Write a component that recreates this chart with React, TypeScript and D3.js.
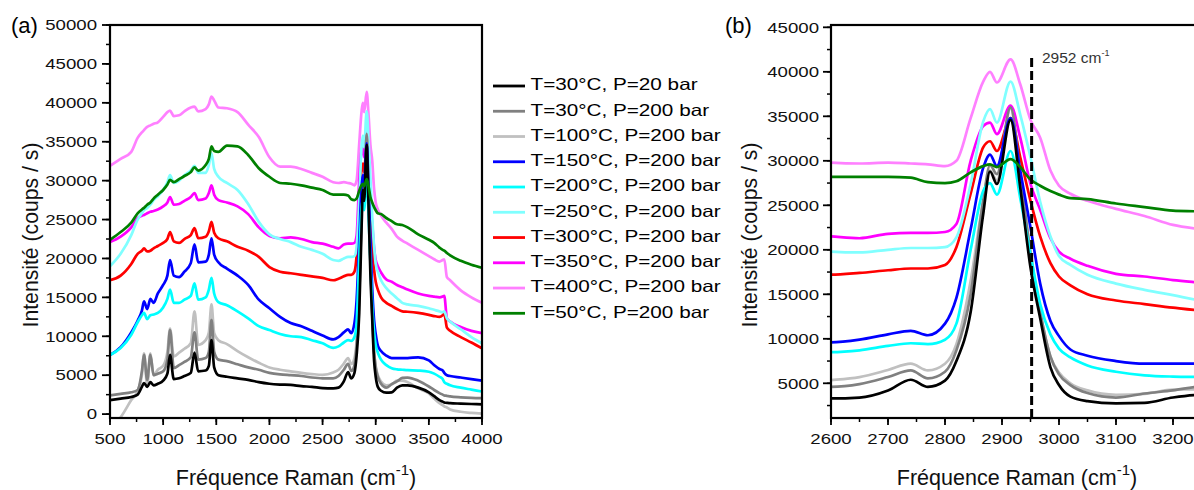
import React from "react";
import * as d3 from "d3";

// ---------- data ----------
const wavenumber = [500, 600, 700, 760, 800, 820, 850, 880, 910, 950, 1000, 1040, 1065, 1100, 1150, 1200, 1260, 1295, 1330, 1400, 1430, 1455, 1480, 1520, 1600, 1700, 1800, 1900, 2000, 2100, 2200, 2300, 2400, 2500, 2600, 2650, 2700, 2740, 2770, 2800, 2820, 2845, 2867, 2879, 2891, 2915, 2932, 2950, 2967, 2985, 3000, 3020, 3050, 3100, 3150, 3200, 3250, 3300, 3400, 3500, 3550, 3600, 3630, 3645, 3670, 3700, 3800, 3900, 4000];

const i30_20 = [1800, 2000, 2200, 2500, 3500, 4000, 3500, 4100, 3700, 3900, 4300, 5200, 7600, 4500, 4600, 4900, 5300, 7900, 5500, 5600, 6200, 9500, 6000, 5000, 4800, 4600, 4400, 4100, 3900, 3800, 3750, 3600, 3500, 3350, 3300, 3400, 4200, 5400, 4600, 5300, 7500, 13000, 24000, 28800, 27400, 34600, 27000, 18000, 12300, 6800, 4800, 3500, 3000, 2750, 2800, 3400, 3700, 3700, 3400, 2800, 2300, 1800, 1600, 1500, 1450, 1400, 1350, 1300, 1250];
const i30_200 = [2400, 2600, 2800, 3100, 5500, 7600, 4400, 7600, 5000, 5200, 5500, 7000, 10800, 5900, 6300, 6700, 7300, 10500, 7000, 7200, 8000, 12100, 8000, 7000, 6800, 6400, 6000, 5700, 5300, 5100, 5000, 4900, 4700, 4600, 4600, 4900, 5700, 6450, 5550, 6300, 8700, 15000, 25500, 29500, 28500, 36000, 28500, 19500, 13000, 8000, 6000, 4800, 3900, 3400, 3850, 4200, 4650, 4700, 4300, 3550, 3100, 2700, 2500, 2400, 2350, 2270, 2150, 2080, 2050];
const i100_200 = [-1800, -400, 1800, 3000, 5000, 7800, 3600, 7800, 5000, 5700, 6200, 8000, 11000, 7400, 7900, 8400, 9100, 13200, 8900, 9500, 10500, 14100, 10400, 9500, 9000, 8100, 7300, 6600, 6000, 5700, 5500, 5300, 5150, 5050, 5350, 5700, 6500, 7200, 6450, 7200, 9400, 16500, 25500, 28900, 27800, 35900, 28000, 19800, 13000, 8000, 6200, 5000, 4200, 3700, 3800, 4300, 4300, 4100, 3300, 2650, 2000, 1400, 1150, 1000, 850, 600, 300, 150, 50];
const i150_200 = [7600, 8600, 10500, 12000, 13300, 14500, 13500, 14800, 14300, 15500, 16600, 17800, 19800, 17800, 17600, 18300, 19400, 21800, 19500, 19600, 20500, 22600, 20500, 19500, 18700, 17800, 16600, 14700, 13600, 12500, 11700, 11300, 10700, 10100, 9600, 9900, 10500, 10900, 10400, 11700, 14600, 22300, 29200, 30700, 29400, 34800, 28900, 22500, 16200, 12000, 10300, 8800, 8100, 7500, 7200, 7200, 7200, 7200, 7300, 6900, 6300, 5800, 5600, 5300, 5000, 4900, 4700, 4500, 4300];
const i200_200 = [7600, 8500, 10200, 11800, 12700, 13000, 12200, 12700, 12800, 13000, 13700, 14800, 16000, 14300, 14300, 14700, 15200, 16800, 14700, 15000, 16000, 17500, 15500, 14400, 14000, 13200, 12300, 11300, 10800, 10300, 10000, 9900, 9500, 9100, 8500, 8700, 9200, 9500, 9400, 9900, 11700, 20000, 26600, 27500, 26200, 31100, 25800, 19500, 13900, 10500, 8900, 7900, 7000, 6300, 5900, 5750, 5700, 5650, 5600, 5450, 5200, 4800, 4500, 4100, 3900, 3700, 3400, 3150, 2900];
const i250_200 = [19000, 20600, 23000, 25000, 25800, 26200, 26500, 26900, 27500, 28000, 28800, 29800, 30700, 29700, 30000, 30700, 31300, 31900, 31000, 31000, 32000, 33500, 31500, 30500, 29700, 28800, 27000, 24700, 23100, 22500, 22100, 21500, 21100, 20600, 19800, 19700, 20000, 20200, 20200, 20300, 21400, 27400, 34400, 35800, 34300, 38900, 35200, 30400, 25400, 21500, 19300, 18300, 17200, 16200, 15500, 14900, 14300, 14100, 13900, 13600, 13400, 13200, 13100, 13200, 12300, 11900, 10900, 9900, 9100];
const i300_200 = [17200, 17800, 19300, 20600, 21000, 21300, 20900, 21000, 21300, 21600, 22000, 22500, 23400, 22200, 22000, 22500, 23000, 23900, 22600, 22800, 23500, 24700, 23300, 22600, 22200, 21500, 21000, 20200, 18900, 18300, 18100, 17900, 17700, 17500, 17200, 17400, 17700, 17900, 17900, 18300, 20300, 26300, 31500, 32200, 31100, 34800, 30400, 25500, 21500, 18500, 17000, 16000, 15000, 14300, 13900, 13500, 13200, 13150, 13000, 12750, 12600, 12500, 12700, 12900, 11100, 10700, 9900, 9200, 8450];
const i350_200 = [22100, 22800, 24000, 25200, 25500, 25600, 25800, 26000, 26100, 26300, 26700, 27200, 27900, 26900, 27000, 27400, 27900, 28400, 27500, 27700, 28400, 29400, 28200, 27500, 27200, 26700, 25700, 24000, 22900, 22600, 22700, 22500, 22100, 21900, 21500, 21300, 21800, 21900, 21900, 22000, 22900, 30000, 33900, 34300, 33000, 36200, 32600, 27400, 24500, 21300, 19800, 19000, 18200, 17300, 17000, 16600, 16300, 16000, 15500, 15200, 15100, 15000, 15100, 15200, 12300, 11900, 11200, 10700, 10400];
const i400_200 = [31900, 32800, 33700, 35500, 36200, 36500, 36900, 37100, 37300, 37500, 38200, 38800, 39000, 38300, 38400, 38900, 39400, 39500, 38900, 39200, 39800, 40800, 40300, 39400, 39300, 38800, 37200, 35600, 33000, 31800, 31800, 31500, 31000, 30500, 29800, 29700, 29800, 29700, 29600, 29400, 30000, 34800, 38900, 40000, 38800, 41400, 38600, 34600, 32600, 28900, 27200, 26300, 25500, 24600, 23800, 22800, 22300, 21900, 21100, 20300, 19900, 19600, 19800, 19900, 17600, 17200, 15900, 15000, 14300];
const i50_200 = [22400, 23400, 24600, 25800, 26300, 26500, 26900, 27200, 27700, 28200, 28800, 29500, 30100, 29800, 30200, 30600, 31100, 31700, 31300, 32000, 32800, 34400, 33800, 33700, 34500, 34400, 33300, 31600, 30500, 29700, 29600, 29400, 29100, 28800, 28200, 28200, 28200, 28100, 27600, 27500, 27700, 28700, 29400, 29600, 29300, 30200, 29300, 27900, 27200, 26600, 26200, 25800, 25700, 25200, 24800, 24400, 24300, 24000, 23100, 22400, 22000, 21400, 21100, 21000, 20700, 20400, 19700, 19200, 18800];

const legendLabels = [
  "T=30°C, P=20 bar",
  "T=30°C, P=200 bar",
  "T=100°C, P=200 bar",
  "T=150°C, P=200 bar",
  "T=200°C, P=200 bar",
  "T=250°C, P=200 bar",
  "T=300°C, P=200 bar",
  "T=350°C, P=200 bar",
  "T=400°C, P=200 bar",
  "T=50°C, P=200 bar",
];
const seriesValues = [i30_20, i30_200, i100_200, i150_200, i200_200, i250_200, i300_200, i350_200, i400_200, i50_200];
const seriesColors = ["#000000", "#808080", "#c0c0c0", "#0000ff", "#00ffff", "#80ffff", "#ff0000", "#ff00ff", "#ff80ff", "#008000"];
const drawOrder = [8, 7, 6, 5, 2, 1, 3, 4, 0, 9];

const xTicksA = [500, 1000, 1500, 2000, 2500, 3000, 3500, 4000];
const yTicksA = [0, 5000, 10000, 15000, 20000, 25000, 30000, 35000, 40000, 45000, 50000];
const xTicksB = [2600, 2700, 2800, 2900, 3000, 3100, 3200];
const yTicksB = [5000, 10000, 15000, 20000, 25000, 30000, 35000, 40000, 45000];
const markerWavenumber = 2952;

const FONT = "'Liberation Sans', Arial, sans-serif";

function SText({ x, y, sx = 1, anchor = "start", size, fill = "#000", children }: any) {
  return (
    <text
      transform={`translate(${x},${y}) scale(${sx},1)`}
      textAnchor={anchor}
      fontSize={size}
      fontFamily={FONT}
      fill={fill}
    >
      {children}
    </text>
  );
}

function Panel({ id, x, y, xTicks, xMinorStep, yTicks, yMinorStep, labelRight }: any) {
  const [x0, x1] = x.range();
  const [y0, y1] = y.range(); // y0 bottom, y1 top
  const [dx0, dx1] = x.domain();
  const [dy0, dy1] = y.domain();
  const line = d3
    .line<number>()
    .x((_, i) => x(wavenumber[i]))
    .y((d) => y(d))
    .curve(d3.curveMonotoneX);

  const xMinor: number[] = [];
  for (let v = Math.ceil(dx0 / xMinorStep) * xMinorStep; v <= dx1; v += xMinorStep) xMinor.push(v);
  const yMinor: number[] = [];
  for (let v = Math.ceil(dy0 / yMinorStep) * yMinorStep; v <= dy1; v += yMinorStep) yMinor.push(v);

  return (
    <g>
      <defs>
        <clipPath id={id}>
          <rect x={x0} y={y1} width={x1 - x0} height={y0 - y1} />
        </clipPath>
      </defs>
      <g clipPath={`url(#${id})`}>
        {drawOrder.map((k) => (
          <path
            key={k}
            d={line(seriesValues[k]) || ""}
            fill="none"
            stroke={seriesColors[k]}
            strokeWidth={2.7}
            strokeLinejoin="round"
          />
        ))}
      </g>
      {xMinor.map((v) => (
        <line key={"xm" + v} x1={x(v)} x2={x(v)} y1={y0} y2={y0 + 4} stroke="#000" strokeWidth={1.5} />
      ))}
      {yMinor.map((v) => (
        <line key={"ym" + v} x1={x0 - 4} x2={x0} y1={y(v)} y2={y(v)} stroke="#000" strokeWidth={1.5} />
      ))}
      {xTicks.map((v: number) => (
        <line key={"xM" + v} x1={x(v)} x2={x(v)} y1={y0} y2={y0 + 7} stroke="#000" strokeWidth={1.8} />
      ))}
      {yTicks.map((v: number) => (
        <line key={"yM" + v} x1={x0 - 8} x2={x0} y1={y(v)} y2={y(v)} stroke="#000" strokeWidth={1.8} />
      ))}
      <rect x={x0} y={y1} width={x1 - x0} height={y0 - y1} fill="none" stroke="#000" strokeWidth={2.2} />
      {xTicks.map((v: number) => (
        <SText key={"xl" + v} x={x(v)} y={444} sx={1.25} anchor="middle" size={14.9} fill="#111">
          {String(v)}
        </SText>
      ))}
      {yTicks.map((v: number) => (
        <SText key={"yl" + v} x={labelRight} y={y(v) + 5.3} sx={1.25} anchor="end" size={14.9} fill="#111">
          {String(v)}
        </SText>
      ))}
    </g>
  );
}

export default function App() {
  const W = 1194;
  const H = 490;
  const xA = d3.scaleLinear().domain([500, 4000]).range([110, 482]);
  const yA = d3.scaleLinear().domain([-500, 50000]).range([418, 25]);
  const xB = d3.scaleLinear().domain([2600, 3250]).range([831, 1201.5]);
  const yB = d3.scaleLinear().domain([1100, 45260]).range([418, 25]);

  const legendY = d3.scaleLinear().domain([0, 9]).range([86, 313.3]);
  const mx = xB(markerWavenumber);

  return (
    <svg
      width={W}
      height={H}
      viewBox={`0 0 ${W} ${H}`}
      style={{ position: "absolute", left: 0, top: 0, background: "#fff" }}
    >
      <rect x={0} y={0} width={W} height={H} fill="#fff" />
      <Panel id="clipA" x={xA} y={yA} xTicks={xTicksA} xMinorStep={250} yTicks={yTicksA} yMinorStep={2500} labelRight={97} />
      <Panel id="clipB" x={xB} y={yB} xTicks={xTicksB} xMinorStep={50} yTicks={yTicksB} yMinorStep={2500} labelRight={819} />

      <line x1={mx} x2={mx} y1={58} y2={418} stroke="#000" strokeWidth={3} strokeDasharray="9,4" />
      <text x={1042} y={63} fontSize={15.5} fontFamily={FONT} fill="#333">
        2952 cm
        <tspan fontSize={9} dy={-7}>-1</tspan>
      </text>

      <text x={11} y={33} fontSize={22} fontFamily={FONT}>(a)</text>
      <text x={725} y={33} fontSize={22} fontFamily={FONT}>(b)</text>

      {[{ cx: 296, bx: 37.5 }, { cx: 1017, bx: 756.5 }].map((p, i) => (
        <g key={"t" + i}>
          <text x={p.cx} y={484.5} textAnchor="middle" fontSize={21.5} fontFamily={FONT} fill="#111">
            Fréquence Raman (cm
            <tspan fontSize={15} dy={-10}>-1</tspan>
            <tspan dy={10}>)</tspan>
          </text>
          <text
            transform={`translate(${p.bx},235) rotate(-90)`}
            textAnchor="middle"
            fontSize={21.2}
            fontFamily={FONT}
            fill="#111"
          >
            Intensité (coups / s)
          </text>
        </g>
      ))}

      {legendLabels.map((lab, i) => (
        <g key={"lg" + i}>
          <line x1={493} x2={525} y1={legendY(i)} y2={legendY(i)} stroke={seriesColors[i]} strokeWidth={2.8} />
          <SText x={530.5} y={legendY(i) + 4.3} sx={1.27} size={16.3}>
            {lab}
          </SText>
        </g>
      ))}
    </svg>
  );
}
